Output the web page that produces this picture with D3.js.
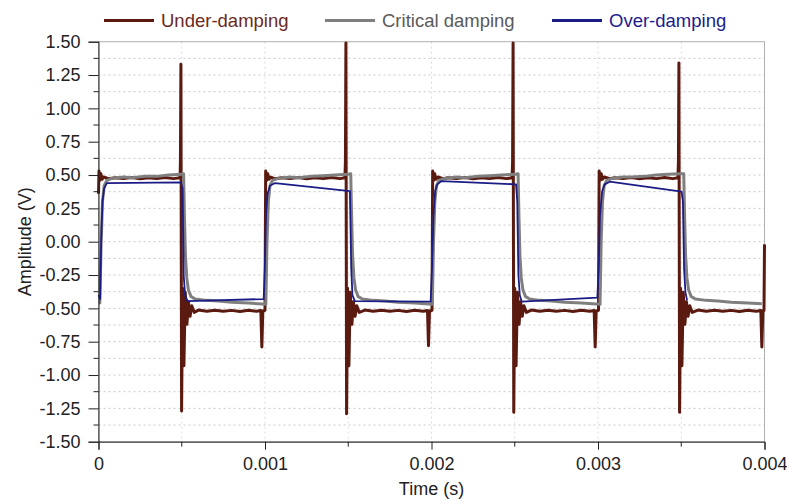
<!DOCTYPE html>
<html>
<head>
<meta charset="utf-8">
<script src="https://cdn.jsdelivr.net/npm/d3@7"></script>
<style>
  body { margin: 0; background: #fff; }
  svg { display: block; font-family: "Liberation Sans", Arial, sans-serif; }
</style>
</head>
<body>
<div id="chart"></div>
<script>
// Series names and colours (legend order)
const seriesNames = ['Under-damping', 'Critical damping', 'Over-damping'];

// Tick values
const yTicks = [1.5, 1.25, 1.0, 0.75, 0.5, 0.25, 0.0, -0.25, -0.5, -0.75, -1.0, -1.25, -1.5];
const yMinorTicks = [1.375, 1.125, 0.875, 0.625, 0.375, 0.125, -0.125, -0.375, -0.625, -0.875, -1.125, -1.375];
const xTicks = [0, 0.001, 0.002, 0.003, 0.004];
const xMinorTicks = [0.0005, 0.0015, 0.0025, 0.0035];

// Under-damping trace [time (s), amplitude (V)]
const underDamping = [
  [0, 0.36], [0.000003, 0.53], [0.000008, 0.46], [0.000014, 0.51], [0.000022, 0.468], [0.00003, 0.485],
  [0.00006, 0.472], [0.0001, 0.48], [0.00015, 0.473], [0.0002, 0.481], [0.00025, 0.472], [0.0003, 0.48],
  [0.00035, 0.473], [0.0004, 0.481], [0.00045, 0.473], [0.00049, 0.479],
  [0.000492, 0.6], [0.000495, 1.33], [0.000499, -1.27], [0.000505, -0.35], [0.000513, -0.93],
  [0.000521, -0.38], [0.000531, -0.62], [0.00054, -0.45], [0.00055, -0.56], [0.00056, -0.48],
  [0.000575, -0.53], [0.0006, -0.513], [0.00065, -0.522], [0.0007, -0.514], [0.00075, -0.522],
  [0.0008, -0.515], [0.00085, -0.523], [0.0009, -0.514], [0.00095, -0.522], [0.000975, -0.516],
  [0.000981, -0.79], [0.000987, -0.52], [0.001, -0.515],
  [0.001004, 0.53], [0.00101, 0.46], [0.001016, 0.51], [0.001024, 0.468], [0.001035, 0.485],
  [0.00106, 0.472], [0.0011, 0.48], [0.00115, 0.473], [0.0012, 0.481], [0.00125, 0.472], [0.0013, 0.48],
  [0.00135, 0.473], [0.0014, 0.481], [0.00145, 0.473], [0.00148, 0.479],
  [0.001483, 0.6], [0.001486, 1.49], [0.00149, -1.29], [0.001496, -0.35], [0.001504, -0.93],
  [0.001512, -0.38], [0.001522, -0.62], [0.001531, -0.45], [0.001541, -0.56], [0.001551, -0.48],
  [0.001566, -0.53], [0.0016, -0.513], [0.00165, -0.522], [0.0017, -0.514], [0.00175, -0.522],
  [0.0018, -0.515], [0.00185, -0.523], [0.0019, -0.514], [0.00195, -0.522], [0.001976, -0.516],
  [0.001982, -0.78], [0.001988, -0.52], [0.002003, -0.515],
  [0.002007, 0.53], [0.002013, 0.46], [0.002019, 0.51], [0.002027, 0.468], [0.002038, 0.485],
  [0.00207, 0.472], [0.0021, 0.48], [0.00215, 0.473], [0.0022, 0.481], [0.00225, 0.472], [0.0023, 0.48],
  [0.00235, 0.473], [0.0024, 0.481], [0.00245, 0.473], [0.002484, 0.479],
  [0.002487, 0.6], [0.00249, 1.49], [0.002494, -1.28], [0.0025, -0.35], [0.002508, -0.93],
  [0.002516, -0.38], [0.002526, -0.62], [0.002535, -0.45], [0.002545, -0.56], [0.002555, -0.48],
  [0.00257, -0.53], [0.0026, -0.513], [0.00265, -0.522], [0.0027, -0.514], [0.00275, -0.522],
  [0.0028, -0.515], [0.00285, -0.523], [0.0029, -0.514], [0.00295, -0.522], [0.002977, -0.516],
  [0.002983, -0.79], [0.002989, -0.52], [0.003003, -0.515],
  [0.003007, 0.53], [0.003013, 0.46], [0.003019, 0.51], [0.003027, 0.468], [0.003038, 0.485],
  [0.00307, 0.472], [0.0031, 0.48], [0.00315, 0.473], [0.0032, 0.481], [0.00325, 0.472], [0.0033, 0.48],
  [0.00335, 0.473], [0.0034, 0.481], [0.00345, 0.473], [0.00348, 0.479],
  [0.003483, 0.6], [0.003486, 1.34], [0.00349, -1.28], [0.003496, -0.35], [0.003504, -0.93],
  [0.003512, -0.38], [0.003522, -0.62], [0.003531, -0.45], [0.003541, -0.56], [0.003551, -0.48],
  [0.003566, -0.53], [0.0036, -0.513], [0.00365, -0.522], [0.0037, -0.514], [0.00375, -0.522],
  [0.0038, -0.515], [0.00385, -0.523], [0.0039, -0.514], [0.00395, -0.522], [0.003978, -0.516],
  [0.003984, -0.79], [0.00399, -0.52], [0.003997, -0.515], [0.004, -0.02]
];

// Critical damping trace
const criticalDamping = [
  [0, -0.46], [0.000008, -0.46], [0.000016, 0.0], [0.000024, 0.3], [0.000034, 0.42], [0.00005, 0.46],
  [0.00008, 0.475], [0.00015, 0.485], [0.0002, 0.48], [0.00028, 0.49], [0.00035, 0.49], [0.00042, 0.5],
  [0.0005, 0.505], [0.000511, 0.51],
  [0.000516, 0.2], [0.000522, -0.1], [0.00053, -0.27], [0.00054, -0.36], [0.000555, -0.41],
  [0.00058, -0.43], [0.00065, -0.44], [0.00072, -0.445], [0.0008, -0.455], [0.0009, -0.46], [0.001005, -0.47],
  [0.001012, 0.0], [0.00102, 0.3], [0.00103, 0.42], [0.001045, 0.46], [0.00108, 0.475], [0.00115, 0.485],
  [0.0012, 0.48], [0.00128, 0.49], [0.00135, 0.495], [0.00142, 0.5], [0.0015, 0.505], [0.001515, 0.51],
  [0.00152, 0.2], [0.001526, -0.1], [0.001534, -0.27], [0.001544, -0.36], [0.001559, -0.41],
  [0.001584, -0.43], [0.00165, -0.44], [0.00172, -0.445], [0.0018, -0.455], [0.0019, -0.46], [0.002005, -0.47],
  [0.002012, 0.0], [0.00202, 0.3], [0.00203, 0.42], [0.002045, 0.46], [0.00208, 0.475], [0.00215, 0.485],
  [0.0022, 0.48], [0.00228, 0.49], [0.00235, 0.495], [0.00242, 0.5], [0.0025, 0.505], [0.00252, 0.51],
  [0.002525, 0.2], [0.002531, -0.1], [0.002539, -0.27], [0.002549, -0.36], [0.002564, -0.41],
  [0.002589, -0.43], [0.00265, -0.44], [0.00272, -0.445], [0.0028, -0.455], [0.0029, -0.46], [0.003012, -0.47],
  [0.003019, 0.0], [0.003027, 0.3], [0.003037, 0.42], [0.003052, 0.46], [0.003085, 0.475], [0.00315, 0.485],
  [0.0032, 0.485], [0.00328, 0.49], [0.00335, 0.5], [0.00342, 0.505], [0.0035, 0.51], [0.003515, 0.51],
  [0.00352, 0.2], [0.003526, -0.1], [0.003534, -0.27], [0.003544, -0.36], [0.003559, -0.41],
  [0.003584, -0.43], [0.00365, -0.44], [0.00372, -0.445], [0.0038, -0.455], [0.0039, -0.46], [0.003984, -0.465]
];

// Over-damping trace (sparse samples, straight segments between them)
const overDamping = [
  [0, -0.40], [0.00001, -0.43], [0.000016, 0.0], [0.000024, 0.3], [0.000034, 0.40], [0.00005, 0.44],
  [0.000495, 0.445], [0.000505, 0.40], [0.000512, -0.26], [0.00052, -0.40], [0.000535, -0.445],
  [0.000992, -0.43], [0.000999, -0.2], [0.001006, 0.2], [0.001015, 0.36], [0.00103, 0.42], [0.00106, 0.44],
  [0.00151, 0.38], [0.001518, -0.2], [0.001525, -0.40], [0.00154, -0.445],
  [0.001995, -0.45], [0.002003, -0.2], [0.002012, 0.2], [0.002022, 0.38], [0.002035, 0.43], [0.00206, 0.455],
  [0.002508, 0.43], [0.002515, 0.3], [0.002522, -0.25], [0.00253, -0.40], [0.002542, -0.45],
  [0.002996, -0.42], [0.003004, -0.2], [0.003012, 0.2], [0.003025, 0.38], [0.00304, 0.43], [0.00307, 0.45],
  [0.003502, 0.375], [0.00351, 0.3], [0.003517, -0.2], [0.003525, -0.38], [0.003535, -0.44]
];

const colors = ['#5a1a10', '#7f7f7f', '#1c1c86'];
const textColors = ['#6a2a22', '#5a5a5a', '#1c1c8c'];
const widths = [3, 3, 1.8];

const width = 787, height = 500;
const margin = { top: 41.7, right: 22.5, bottom: 58.3, left: 98.5 };

const svg = d3.select('#chart').append('svg')
  .attr('width', width)
  .attr('height', height);

const x = d3.scaleLinear().domain([0, 0.004]).range([margin.left, width - margin.right]);
const y = d3.scaleLinear().domain([-1.5, 1.5]).range([height - margin.bottom, margin.top]);

// Grid lines
const grid = svg.append('g');
grid.selectAll('line.h')
  .data(yTicks.concat(yMinorTicks).filter(d => Math.abs(d) < 1.5))
  .enter().append('line')
  .attr('x1', margin.left).attr('x2', width - margin.right)
  .attr('y1', d => y(d)).attr('y2', d => y(d))
  .attr('stroke', '#c8c8c8')
  .attr('stroke-dasharray', '2,3');
grid.selectAll('line.v')
  .data(xTicks.concat(xMinorTicks).filter(d => d > 0 && d < 0.004))
  .enter().append('line')
  .attr('y1', margin.top).attr('y2', height - margin.bottom)
  .attr('x1', d => x(d)).attr('x2', d => x(d))
  .attr('stroke', '#dcdcdc')
  .attr('stroke-dasharray', '2,3');

// Frame (top and right)
svg.append('rect')
  .attr('x', margin.left).attr('y', margin.top)
  .attr('width', width - margin.left - margin.right)
  .attr('height', height - margin.top - margin.bottom)
  .attr('fill', 'none')
  .attr('stroke', '#b0b0b0');

// Lines
const line = d3.line()
  .x(d => x(d[0]))
  .y(d => y(d[1]));

[underDamping, criticalDamping, overDamping].forEach((data, i) => {
  svg.append('path')
    .datum(data)
    .attr('fill', 'none')
    .attr('stroke', colors[i])
    .attr('stroke-width', widths[i])
    .attr('stroke-linejoin', 'round')
    .attr('d', line);
});

// Axes (plain hyphen for negatives, as in the picture)
const yFormat = d => d3.format('.2f')(d).replace('\u2212', '-');

const yAxis = svg.append('g')
  .attr('transform', `translate(${margin.left},0)`)
  .call(d3.axisLeft(y).tickValues(yTicks).tickFormat(yFormat).tickSize(10).tickPadding(8));
yAxis.append('g')
  .selectAll('line')
  .data(yMinorTicks)
  .enter().append('line')
  .attr('x1', -5).attr('x2', 0)
  .attr('y1', d => y(d)).attr('y2', d => y(d))
  .attr('stroke', '#222');

const xAxis = svg.append('g')
  .attr('transform', `translate(0,${height - margin.bottom})`)
  .call(d3.axisBottom(x).tickValues(xTicks).tickFormat(d => d === 0 ? '0' : d3.format('.3f')(d)).tickSize(8).tickPadding(8));
xAxis.append('g')
  .selectAll('line')
  .data(xMinorTicks)
  .enter().append('line')
  .attr('x1', d => x(d)).attr('x2', d => x(d))
  .attr('y1', 0).attr('y2', 5)
  .attr('stroke', '#222');

[yAxis, xAxis].forEach(a => {
  a.select('.domain').attr('stroke', '#222');
  a.selectAll('.tick line').attr('stroke', '#222');
  a.selectAll('.tick text')
    .attr('font-size', '18px')
    .attr('font-family', '"Liberation Sans", Arial, sans-serif')
    .attr('fill', '#222');
});

// Axis titles
svg.append('text')
  .attr('x', (margin.left + width - margin.right) / 2)
  .attr('y', 495)
  .attr('text-anchor', 'middle')
  .attr('font-size', '18px')
  .attr('fill', '#222')
  .text('Time (s)');

svg.append('text')
  .attr('transform', `translate(31,${(margin.top + height - margin.bottom) / 2}) rotate(-90)`)
  .attr('text-anchor', 'middle')
  .attr('font-size', '18px')
  .attr('fill', '#222')
  .text('Amplitude (V)');

// Legend
const legendX = [104, 325, 552];
const legend = svg.append('g');
seriesNames.forEach((name, i) => {
  legend.append('line')
    .attr('x1', legendX[i]).attr('x2', legendX[i] + 50)
    .attr('y1', 20.5).attr('y2', 20.5)
    .attr('stroke', colors[i])
    .attr('stroke-width', 3);
  legend.append('text')
    .attr('x', legendX[i] + 57)
    .attr('y', 27)
    .attr('font-size', '18.5px')
    .attr('fill', textColors[i])
    .text(name);
});
</script>
</body>
</html>
